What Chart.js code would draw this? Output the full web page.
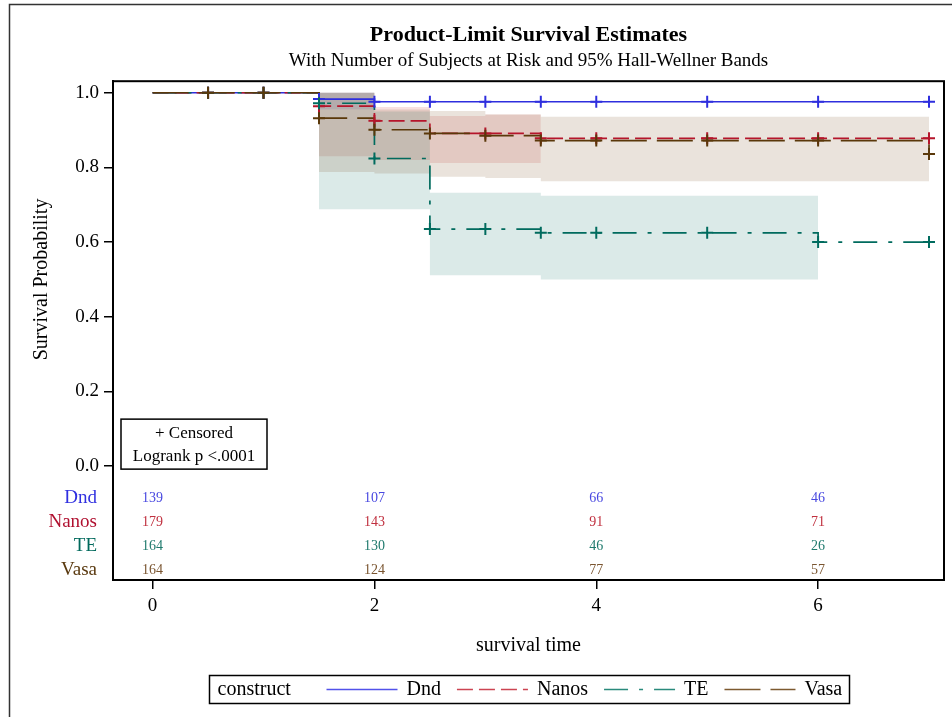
<!DOCTYPE html>
<html>
<head>
<meta charset="utf-8">
<title>Product-Limit Survival Estimates</title>
<script src="https://cdn.jsdelivr.net/npm/chart.js@4.4.1/dist/chart.umd.min.js"></script>
<style>
  body { margin: 0; background: #fff; }
  canvas { display: block; }
</style>
</head>
<body>
<canvas id="kmChart" width="952" height="717"></canvas>
<script>
var groups = ['Dnd', 'Nanos', 'TE', 'Vasa'];

// event times and the survival estimate after each one
var dndTimes = [0, 1.5, 2];
var dndSurv = [1.0, 0.983, 0.976];
var nanosTimes = [0, 1.5, 2, 2.5, 3.5];
var nanosSurv = [1.0, 0.964, 0.925, 0.891, 0.878];
var teTimes = [0, 1.5, 2, 2.5, 3.5, 6];
var teSurv = [1.0, 0.972, 0.824, 0.635, 0.625, 0.600];
var vasaTimes = [0, 1.5, 2, 2.5, 3, 3.5, 7];
var vasaSurv = [1.0, 0.932, 0.901, 0.891, 0.885, 0.872, 0.836];
var lastTime = 7;

// censored observations
var dndCensored = [0.5, 1, 1.5, 2, 2.5, 3, 3.5, 4, 5, 6, 7];
var nanosCensored = [0.5, 1, 1.5, 2, 3, 3.5, 4, 5, 6, 7];
var teCensored = [0.5, 1, 1.5, 2, 2.5, 3, 3.5, 4, 5, 6, 7];
var vasaCensored = [0.5, 1, 1.5, 2, 2.5, 3, 3.5, 4, 5, 6, 7];

// 95% Hall-Wellner bands (step start times, last entry = end of band)
var dndBandTimes = [1.5, 2];
var dndUpper = [1.0, 1.0];
var dndLower = [0.955, 0.955];
var nanosBandTimes = [1.5, 2, 2.5, 3, 3.5];
var nanosUpper = [1.0, 0.962, 0.938, 0.942, 0.942];
var nanosLower = [0.830, 0.820, 0.812, 0.812, 0.812];
var teBandTimes = [1.5, 2, 2.5, 3.5, 6];
var teUpper = [1.0, 0.950, 0.732, 0.724, 0.724];
var teLower = [0.688, 0.688, 0.511, 0.500, 0.500];
var vasaBandTimes = [1.5, 2, 2.5, 3, 3.5, 7];
var vasaUpper = [1.0, 0.955, 0.951, 0.942, 0.936, 0.936];
var vasaLower = [0.788, 0.784, 0.775, 0.772, 0.763, 0.763];

// number at risk
var riskTimes = [0, 2, 4, 6];
var dndAtRisk = [139, 107, 66, 46];
var nanosAtRisk = [179, 143, 91, 71];
var teAtRisk = [164, 130, 46, 26];
var vasaAtRisk = [164, 124, 77, 57];

var xTicks = [0, 2, 4, 6];
var yTicks = [0, 0.2, 0.4, 0.6, 0.8, 1.0];

var serif = "'Liberation Serif', 'Times New Roman', serif";

var series = [
  { times: dndTimes, surv: dndSurv, cens: dndCensored, bt: dndBandTimes, up: dndUpper, lo: dndLower, risk: dndAtRisk,
    line: '#2e2ede', band: 'rgba(60,80,200,0.13)', dash: [], label: '#3030e0', num: '#4848e0', key: '#5252ea' },
  { times: nanosTimes, surv: nanosSurv, cens: nanosCensored, bt: nanosBandTimes, up: nanosUpper, lo: nanosLower, risk: nanosAtRisk,
    line: '#b5152b', band: 'rgba(200,50,45,0.15)', dash: [16, 6], label: '#b01030', num: '#c0303f', key: '#cc4452' },
  { times: teTimes, surv: teSurv, cens: teCensored, bt: teBandTimes, up: teUpper, lo: teLower, risk: teAtRisk,
    line: '#006b5e', band: 'rgba(0,105,92,0.14)', dash: [24, 11, 4, 11], label: '#00695c', num: '#1f7a6d', key: '#2a8a7c' },
  { times: vasaTimes, surv: vasaSurv, cens: vasaCensored, bt: vasaBandTimes, up: vasaUpper, lo: vasaLower, risk: vasaAtRisk,
    line: '#5a380a', band: 'rgba(105,55,5,0.14)', dash: [36, 10], label: '#5a3a10', num: '#7a5530', key: '#7d5a30' }
];

function survAt(times, surv, t) {
  var s = surv[0];
  for (var i = 0; i < times.length; i++) {
    if (times[i] <= t) s = surv[i];
  }
  return s;
}

function points(xs, ys) {
  return xs.map(function (x, i) { return { x: x, y: ys[i] }; });
}

var datasets = [];
series.forEach(function (s, i) {
  var rank = 3 - i; // Vasa drawn on top
  datasets.push({
    data: points(s.bt, s.up), stepped: true, borderWidth: 0, pointRadius: 0, fill: false, order: 20 + rank
  });
  datasets.push({
    data: points(s.bt, s.lo), stepped: true, borderWidth: 0, pointRadius: 0,
    fill: '-1', backgroundColor: s.band, order: 20 + rank
  });
});
series.forEach(function (s, i) {
  var rank = 3 - i;
  var curve = points(s.times, s.surv);
  curve.push({ x: lastTime, y: s.surv[s.surv.length - 1] });
  datasets.push({
    data: curve, stepped: true, borderColor: s.line, borderWidth: 1.7, borderDash: s.dash,
    pointRadius: 0, fill: false, order: 10 + rank
  });
  datasets.push({
    data: s.cens.map(function (t) { return { x: t, y: survAt(s.times, s.surv, t) }; }),
    showLine: false, pointStyle: 'cross', pointRadius: 6, pointBorderWidth: 2,
    pointBorderColor: s.line, order: 1 + rank
  });
});

var decorations = {
  id: 'decorations',
  afterDraw: function (chart) {
    var ctx = chart.ctx, area = chart.chartArea;
    var x = chart.scales.x, y = chart.scales.y;
    ctx.save();

    ctx.strokeStyle = '#333';
    ctx.lineWidth = 1.5;
    ctx.strokeRect(9.5, 4.5, 980, 760);

    ctx.strokeStyle = '#000';
    ctx.lineWidth = 2;
    ctx.strokeRect(area.left, area.top, area.right - area.left, area.bottom - area.top);

    // axis titles
    ctx.fillStyle = '#000';
    ctx.font = '20px ' + serif;
    ctx.textAlign = 'center';
    ctx.textBaseline = 'middle';
    ctx.fillText('survival time', (area.left + area.right) / 2, 646);
    ctx.save();
    ctx.translate(42, y.getPixelForValue(0.5));
    ctx.rotate(-Math.PI / 2);
    ctx.fillText('Survival Probability', 0, 0);
    ctx.restore();

    // at-risk table
    var y0 = y.getPixelForValue(0);
    series.forEach(function (s, i) {
      var rowY = y0 + 32 + 24 * i;
      ctx.font = '19px ' + serif;
      ctx.textAlign = 'right';
      ctx.fillStyle = s.label;
      ctx.fillText(groups[i], area.left - 16, rowY);
      ctx.font = '14px ' + serif;
      ctx.textAlign = 'center';
      ctx.fillStyle = s.num;
      riskTimes.forEach(function (t, j) {
        ctx.fillText(String(s.risk[j]), x.getPixelForValue(t), rowY);
      });
    });

    // inset box
    var bx = area.left + 8, by = y0 - 47;
    ctx.lineWidth = 1.5;
    ctx.strokeRect(bx, by, 146, 50);
    ctx.fillStyle = '#000';
    ctx.font = '17px ' + serif;
    ctx.fillText('+ Censored', bx + 73, by + 14);
    ctx.fillText('Logrank p <.0001', bx + 73, by + 37);

    // legend
    var lx = 209.5, ly = 675.5, mid = ly + 14;
    ctx.lineWidth = 1.5;
    ctx.strokeStyle = '#000';
    ctx.strokeRect(lx, ly, 640, 28);
    ctx.font = '20px ' + serif;
    ctx.textAlign = 'left';
    ctx.fillText('construct', lx + 8, mid);
    var cur = lx + 117;
    series.forEach(function (s, i) {
      ctx.strokeStyle = s.key;
      ctx.lineWidth = 1.7;
      ctx.setLineDash(s.dash);
      ctx.beginPath();
      ctx.moveTo(cur, mid);
      ctx.lineTo(cur + 71, mid);
      ctx.stroke();
      ctx.setLineDash([]);
      cur += 80;
      ctx.fillStyle = '#000';
      ctx.fillText(groups[i], cur, mid);
      cur += ctx.measureText(groups[i]).width + 16;
    });
    ctx.restore();
  }
};

var kmChart = document.getElementById('kmChart').getContext('2d');
new Chart(kmChart, {
  type: 'line',
  data: { datasets: datasets },
  plugins: [decorations],
  options: {
    events: [],
    responsive: false,
    animation: false,
    layout: { padding: { left: 0, top: 0, right: 2, bottom: 92 } },
    scales: {
      x: {
        type: 'linear',
        min: -0.357,
        max: 7.135,
        afterBuildTicks: function (scale) {
          scale.ticks = xTicks.map(function (v) { return { value: v }; });
        },
        afterFit: function (scale) { scale.height = 45; },
        grid: { drawOnChartArea: false, tickLength: 9, color: '#000', lineWidth: 1.5 },
        border: { display: true, color: '#000', width: 2 },
        ticks: { font: { family: serif, size: 19 }, color: '#000', padding: 6, maxRotation: 0 }
      },
      y: {
        type: 'linear',
        min: -0.305,
        max: 1.031,
        afterBuildTicks: function (scale) {
          scale.ticks = yTicks.map(function (v) { return { value: v }; });
        },
        afterFit: function (scale) { scale.width = 113; },
        grid: { drawOnChartArea: false, tickLength: 9, color: '#000', lineWidth: 1.5 },
        border: { display: true, color: '#000', width: 2 },
        ticks: {
          font: { family: serif, size: 19 }, color: '#000', padding: 5,
          callback: function (value) { return value.toFixed(1); }
        }
      }
    },
    plugins: {
      legend: { display: false },
      tooltip: { enabled: false },
      title: {
        display: true,
        text: 'Product-Limit Survival Estimates',
        fullSize: false,
        color: '#000',
        font: { family: serif, size: 22, weight: 'bold' },
        padding: { top: 22, bottom: 1 }
      },
      subtitle: {
        display: true,
        text: 'With Number of Subjects at Risk and 95% Hall-Wellner Bands',
        fullSize: false,
        color: '#000',
        font: { family: serif, size: 19 },
        padding: { top: 0, bottom: 9 }
      }
    }
  }
});
</script>
</body>
</html>
